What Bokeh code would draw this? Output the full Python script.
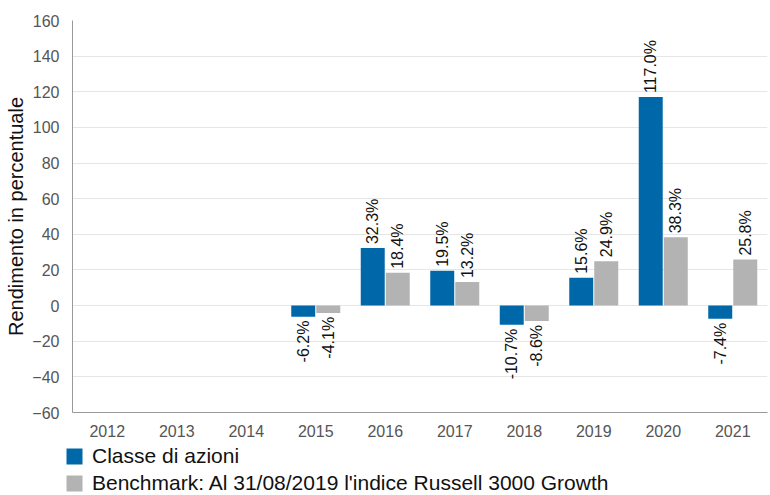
import math
from bokeh.plotting import figure
from bokeh.layouts import column, row
from bokeh.models import ColumnDataSource, FactorRange, Legend, LegendItem, Range1d
from bokeh.transform import dodge
from bokeh.core.properties import value
from bokeh.embed import file_html
from bokeh.resources import INLINE

years = ["2012", "2013", "2014", "2015", "2016", "2017", "2018", "2019", "2020", "2021"]
fund = [None, None, None, -6.2, 32.3, 19.5, -10.7, 15.6, 117.0, -7.4]
bench = [None, None, None, -4.1, 18.4, 13.2, -8.6, 24.9, 38.3, 25.8]
series_names = ["Classe di azioni", "Benchmark: Al 31/08/2019 l'indice Russell 3000 Growth"]
y_ticks = [-60, -40, -20, 0, 20, 40, 60, 80, 100, 120, 140, 160]

BLUE = "#0068a8"
GRAY = "#b3b3b3"
FONT = "Liberation Sans"

def build(vals):
    xs, ys, labs = [], [], []
    for y, v in zip(years, vals):
        if v is None:
            continue
        xs.append(y); ys.append(v); labs.append(f"{v:.1f}%")
    return xs, ys, labs

fx, fy, fl = build(fund)
bx, by, bl = build(bench)

p = figure(x_range=FactorRange(*years), y_range=(-60, 160), width=768, height=440,
           output_backend="svg", toolbar_location=None,
           min_border_left=72, min_border_right=1, min_border_top=20, min_border_bottom=28)
p.outline_line_color = None

srcs = []
def add_series(xs, ys, labs, off, color):
    pos = ColumnDataSource(dict(x=[a for a, v in zip(xs, ys) if v >= 0], y=[v for v in ys if v >= 0],
                                t=[l for l, v in zip(labs, ys) if v >= 0]))
    neg = ColumnDataSource(dict(x=[a for a, v in zip(xs, ys) if v < 0], y=[v for v in ys if v < 0],
                                t=[l for l, v in zip(labs, ys) if v < 0]))
    src = ColumnDataSource(dict(x=xs, y=ys))
    srcs.append(src)
    p.vbar(x=dodge("x", off, range=p.x_range), top="y", bottom=0, width=0.345, source=src,
           fill_color=color, line_color=None)
    p.text(x=dodge("x", off, range=p.x_range), y="y", text="t", source=pos, angle=math.pi / 2,
           text_align="left", text_baseline="middle", y_offset=-4,
           text_font=value(FONT), text_font_size="16px", text_color="#111111")
    p.text(x=dodge("x", off, range=p.x_range), y="y", text="t", source=neg, angle=math.pi / 2,
           text_align="right", text_baseline="middle", y_offset=4,
           text_font=value(FONT), text_font_size="16px", text_color="#111111")

add_series(fx, fy, fl, -0.18, BLUE)
add_series(bx, by, bl, 0.18, GRAY)

p.yaxis.ticker = y_ticks
p.yaxis.axis_label = "Rendimento in percentuale"
p.yaxis.axis_label_text_font = FONT
p.yaxis.axis_label_text_font_size = "20px"
p.yaxis.axis_label_text_font_style = "normal"
p.yaxis.axis_label_text_color = "#111111"
p.yaxis.axis_label_standoff = 2
for ax in (p.xaxis[0], p.yaxis[0]):
    ax.major_tick_line_color = None
    ax.minor_tick_line_color = None
    ax.axis_line_color = "#999999"
    ax.major_label_text_font = FONT
    ax.major_label_text_font_size = "16px"
    ax.major_label_text_color = "#555555"
p.yaxis.major_label_standoff = 7
p.xaxis.major_label_standoff = 6
p.xgrid.grid_line_color = None
p.ygrid.grid_line_color = "#e6e6e6"
p.ygrid.grid_line_width = 1
p.x_range.range_padding = 0
p.x_range.group_padding = 0
p.x_range.factor_padding = 0

# legend strip below the chart (its bars lie outside its view; only the legend shows)
lg = figure(x_range=FactorRange(*years), y_range=Range1d(1000, 1001), width=768, height=55,
            output_backend="svg", toolbar_location=None,
            x_axis_location=None, y_axis_location=None,
            min_border_left=0, min_border_right=0, min_border_top=0, min_border_bottom=0)
lg.outline_line_color = None
lg.grid.grid_line_color = None
g1 = lg.vbar(x="x", top="y", bottom=0, width=0.3, source=srcs[0], fill_color=BLUE, line_color=None)
g2 = lg.vbar(x="x", top="y", bottom=0, width=0.3, source=srcs[1], fill_color=GRAY, line_color=None)

legend = Legend(items=[LegendItem(label=series_names[0], renderers=[g1]),
                       LegendItem(label=series_names[1], renderers=[g2])],
                location=(64, 0), orientation="vertical")
legend.label_text_font = FONT
legend.label_text_font_size = "21px"
legend.label_text_color = "#111111"
legend.glyph_width = 20
legend.glyph_height = 20
legend.label_height = 20
legend.label_standoff = 8
legend.spacing = 3
legend.padding = 0
legend.margin = 0
legend.border_line_color = None
legend.background_fill_alpha = 0
lg.add_layout(legend, "center")

layout = column(p, row(lg), spacing=0)
open("out.html", "w").write(file_html(layout, INLINE))
